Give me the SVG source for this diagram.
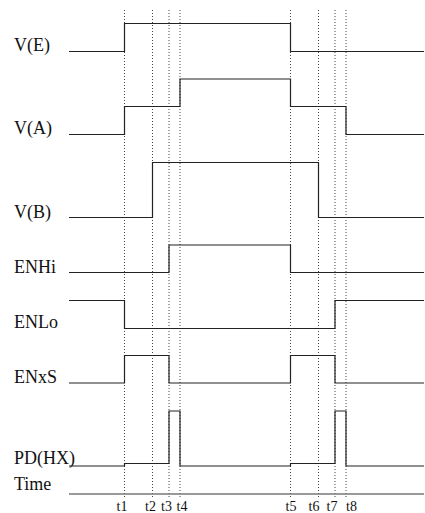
<svg xmlns="http://www.w3.org/2000/svg" width="425" height="513" viewBox="0 0 425 513">
<style>
.sig{fill:none;stroke:#222;stroke-width:1.2}
.dot{fill:none;stroke:#444;stroke-width:1;stroke-dasharray:1,2}
.lbl{font-family:"Liberation Serif","Times New Roman",serif;font-size:18px;fill:#111}
.tl{font-family:"Liberation Serif","Times New Roman",serif;font-size:14px;fill:#111}
.time{fill:none;stroke:#777;stroke-width:1.5}
</style>
<rect width="425" height="513" fill="#fff"/>
<g id="guides">
<line class="dot" x1="124.5" y1="10" x2="124.5" y2="498"/>
<line class="dot" x1="152.5" y1="10" x2="152.5" y2="498"/>
<line class="dot" x1="169" y1="10" x2="169" y2="498"/>
<line class="dot" x1="180" y1="10" x2="180" y2="498"/>
<line class="dot" x1="290.5" y1="10" x2="290.5" y2="498"/>
<line class="dot" x1="318.5" y1="10" x2="318.5" y2="498"/>
<line class="dot" x1="335" y1="10" x2="335" y2="498"/>
<line class="dot" x1="346" y1="10" x2="346" y2="498"/>
</g>
<g id="connectors">
<path id="wVE" class="sig" d="M69,51.5 H124.5 V23.5 H290.5 V51.5 H424"/>
<path id="wVA" class="sig" d="M69,134.5 H124.5 V106.5 H180 V79 H290.5 V106.5 H346 V134.5 H424"/>
<path id="wVB" class="sig" d="M69,217.5 H152.5 V162.5 H318.5 V217.5 H424"/>
<path id="wENHi" class="sig" d="M69,272.5 H169 V245 H290.5 V272.5 H424"/>
<path id="wENLo" class="sig" d="M69,300.5 H124.5 V328.5 H335 V300.5 H424"/>
<path id="wENxS" class="sig" d="M69,383 H124.5 V355.5 H169 V383 H290.5 V355.5 H335 V383 H424"/>
<path id="wPD" class="sig" d="M69,466 H124.5 V463.5 H169 V411 H180 V466 H290.5 V463.5 H335 V411 H346 V466 H424"/>
<path id="wTime" class="time" d="M69,494 H424"/>
</g>
<g id="labels">
<text class="lbl" x="14" y="51">V(E)</text>
<text class="lbl" x="14" y="134">V(A)</text>
<text class="lbl" x="14" y="218">V(B)</text>
<text class="lbl" x="14" y="273">ENHi</text>
<text class="lbl" x="14" y="328">ENLo</text>
<text class="lbl" x="14" y="383">ENxS</text>
<text class="lbl" x="14" y="464">PD(HX)</text>
<text class="lbl" x="14" y="490">Time</text>
</g>
<g id="ticks">
<text class="tl" x="116.5" y="511">t1</text>
<text class="tl" x="145" y="511">t2</text>
<text class="tl" x="161" y="511">t3</text>
<text class="tl" x="176.5" y="511">t4</text>
<text class="tl" x="285.5" y="511">t5</text>
<text class="tl" x="308.5" y="511">t6</text>
<text class="tl" x="326.5" y="511">t7</text>
<text class="tl" x="346" y="511">t8</text>
</g>
</svg>
